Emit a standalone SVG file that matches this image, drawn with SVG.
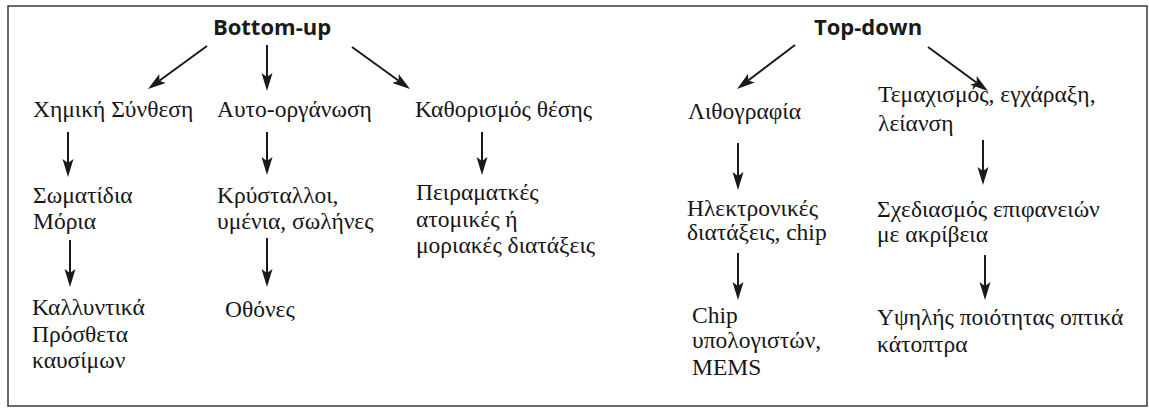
<svg xmlns="http://www.w3.org/2000/svg" width="1149" height="408" viewBox="0 0 1149 408">
<style>
.nlabel{font-family:"Liberation Serif",serif;font-size:23.5px;fill:#161616}
.nhead{font-family:"Open Sans","Liberation Sans",sans-serif;font-size:22px;font-weight:bold;fill:#1a1a1a;text-anchor:middle}
.conn line{stroke:#1a1a1a;stroke-width:2;marker-end:url(#ah)}
</style>
<defs>
<marker id="ah" markerUnits="userSpaceOnUse" markerWidth="20" markerHeight="14" viewBox="0 -7 20 14" refX="4" refY="0" orient="auto">
<path d="M18,0 L0,-5.5 L4,0 L0,5.5 Z" fill="#1a1a1a"/>
</marker>
</defs>
<rect x="8" y="6" width="1139" height="400" fill="#fff" stroke="#3a3a3a" stroke-width="1.5"/>
<g id="bottom-up"><text class="nhead" x="272" y="35">Bottom-up</text></g>
<g id="top-down"><text class="nhead" x="868" y="35">Top-down</text></g>
<g id="chem-synth"><text class="nlabel" font-family="Liberation Serif, serif" x="33" y="117">Χημική Σύνθεση</text></g>
<g id="self-org"><text class="nlabel" font-family="Liberation Serif, serif" x="217" y="117">Αυτο-οργάνωση</text></g>
<g id="positioning"><text class="nlabel" font-family="Liberation Serif, serif" x="415" y="117">Καθορισμός θέσης</text></g>
<g id="particles"><text class="nlabel" font-family="Liberation Serif, serif" x="33" y="203">Σωματίδια</text><text class="nlabel" font-family="Liberation Serif, serif" x="33" y="229">Μόρια</text></g>
<g id="cosmetics"><text class="nlabel" font-family="Liberation Serif, serif" x="32" y="315">Καλλυντικά</text><text class="nlabel" font-family="Liberation Serif, serif" x="32" y="342">Πρόσθετα</text><text class="nlabel" font-family="Liberation Serif, serif" x="32" y="368">καυσίμων</text></g>
<g id="crystals"><text class="nlabel" font-family="Liberation Serif, serif" x="217" y="203">Κρύσταλλοι,</text><text class="nlabel" font-family="Liberation Serif, serif" x="217" y="229">υμένια, σωλήνες</text></g>
<g id="screens"><text class="nlabel" font-family="Liberation Serif, serif" x="225" y="317">Οθόνες</text></g>
<g id="experimental"><text class="nlabel" font-family="Liberation Serif, serif" x="416" y="200">Πειραματκές</text><text class="nlabel" font-family="Liberation Serif, serif" x="416" y="227">ατομικές ή</text><text class="nlabel" font-family="Liberation Serif, serif" x="416" y="253">μοριακές διατάξεις</text></g>
<g id="lithography"><text class="nlabel" font-family="Liberation Serif, serif" x="688" y="119">Λιθογραφία</text></g>
<g id="cutting"><text class="nlabel" font-family="Liberation Serif, serif" x="878" y="102">Τεμαχισμός, εγχάραξη,</text><text class="nlabel" font-family="Liberation Serif, serif" x="878" y="131">λείανση</text></g>
<g id="electronics"><text class="nlabel" font-family="Liberation Serif, serif" x="687" y="216">Ηλεκτρονικές</text><text class="nlabel" font-family="Liberation Serif, serif" x="687" y="240">διατάξεις, chip</text></g>
<g id="chips"><text class="nlabel" font-family="Liberation Serif, serif" x="692" y="323">Chip</text><text class="nlabel" font-family="Liberation Serif, serif" x="692" y="348">υπολογιστών,</text><text class="nlabel" font-family="Liberation Serif, serif" x="692" y="375">MEMS</text></g>
<g id="surface"><text class="nlabel" font-family="Liberation Serif, serif" x="877" y="217">Σχεδιασμός επιφανειών</text><text class="nlabel" font-family="Liberation Serif, serif" x="877" y="242">με ακρίβεια</text></g>
<g id="mirrors"><text class="nlabel" font-family="Liberation Serif, serif" x="877" y="325">Υψηλής ποιότητας οπτικά</text><text class="nlabel" font-family="Liberation Serif, serif" x="877" y="352">κάτοπτρα</text></g>
<g id="connectors" class="conn">
<line x1="207" y1="46" x2="159.3" y2="80.8"/>
<line x1="267" y1="45" x2="267" y2="77"/>
<line x1="352" y1="47" x2="398.7" y2="80.8"/>
<line x1="795" y1="45" x2="748.2" y2="80.5"/>
<line x1="928" y1="47" x2="976.7" y2="82.7"/>
<line x1="68" y1="132" x2="68" y2="163"/>
<line x1="70" y1="240" x2="70" y2="273"/>
<line x1="267" y1="132" x2="267" y2="161"/>
<line x1="267" y1="238" x2="267" y2="273"/>
<line x1="482" y1="132" x2="482" y2="161"/>
<line x1="738" y1="143" x2="738" y2="176"/>
<line x1="738" y1="253" x2="738" y2="286"/>
<line x1="983" y1="140" x2="983" y2="171"/>
<line x1="985" y1="255" x2="985" y2="286"/>
</g>
</svg>
